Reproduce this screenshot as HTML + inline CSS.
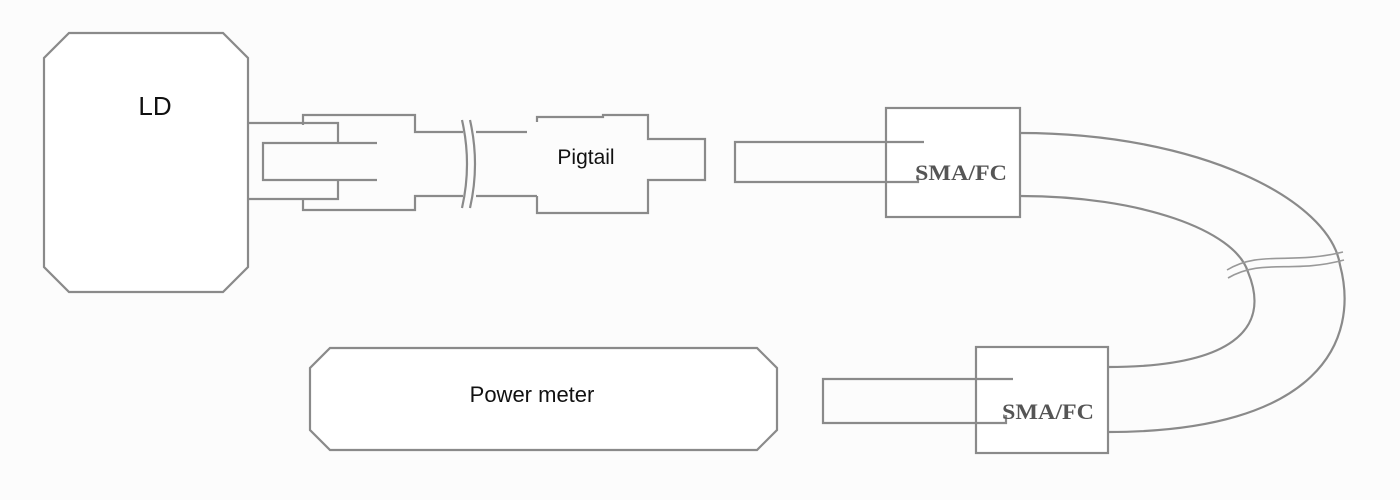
<!DOCTYPE html>
<html><head><meta charset="utf-8"><style>
html,body{margin:0;padding:0;background:#fcfcfc;}
svg{display:block}
</style></head><body>
<svg width="1400" height="500" viewBox="0 0 1400 500" xmlns="http://www.w3.org/2000/svg">
<rect width="1400" height="500" fill="#fcfcfc"/>
<g fill="none" stroke="#8a8a8a" stroke-width="2.2">
<polygon points="69,33 223,33 248,58 248,267 223,292 69,292 44,267 44,58" fill="#fff"/>
<polyline points="248,123 338,123 338,143"/>
<polyline points="248,199 338,199 338,180"/>
<polyline points="377,143 263,143 263,180 377,180"/>
<polyline points="303,125 303,115 415,115 415,132 463,132"/>
<polyline points="303,199 303,210 415,210 415,196 463,196"/>
<path d="M462,120 Q472,164 462,208"/>
<path d="M470,120 Q480,164 470,208"/>
<polyline points="476,132 527,132"/>
<polyline points="476,196 537,196"/>
<polyline points="537,122 537,117 603,117 603,115 648,115 648,139 705,139 705,180 648,180 648,213 537,213 537,196"/>
<rect x="886" y="108" width="134" height="109" fill="#fff"/>
<polyline points="924,142 735,142 735,182 918,182 918,175"/>
<rect x="976" y="347" width="132" height="106" fill="#fff"/>
<polyline points="1013,379 823,379 823,423 1006,423 1006,415"/>
<polygon points="330,348 757,348 777,368 777,430 757,450 330,450 310,430 310,368" fill="#fff"/>
<path d="M1020,133 C1200,133 1330,200 1340,265 C1360,340 1320,432 1108,432"/>
<path d="M1020,196 C1140,196 1235,230 1248,272 C1272,330 1230,367 1108,367"/>
<path d="M1227,270 C1260,250 1290,265 1343,252" stroke="#999" stroke-width="1.6"/>
<path d="M1228,278 C1262,258 1292,274 1344,260" stroke="#999" stroke-width="1.6"/>
</g>
<g font-family="Liberation Sans, sans-serif" fill="#111">
<text x="155" y="115" font-size="26" text-anchor="middle">LD</text>
<text x="586" y="164" font-size="21" text-anchor="middle">Pigtail</text>
<text x="532" y="402" font-size="22" text-anchor="middle">Power meter</text>
</g>
<g font-family="Liberation Serif, serif" fill="#555" font-weight="bold" font-size="22">
<text x="915" y="180" textLength="92" lengthAdjust="spacingAndGlyphs">SMA/FC</text>
<text x="1002" y="419" textLength="92" lengthAdjust="spacingAndGlyphs">SMA/FC</text>
</g>
</svg>
</body></html>
